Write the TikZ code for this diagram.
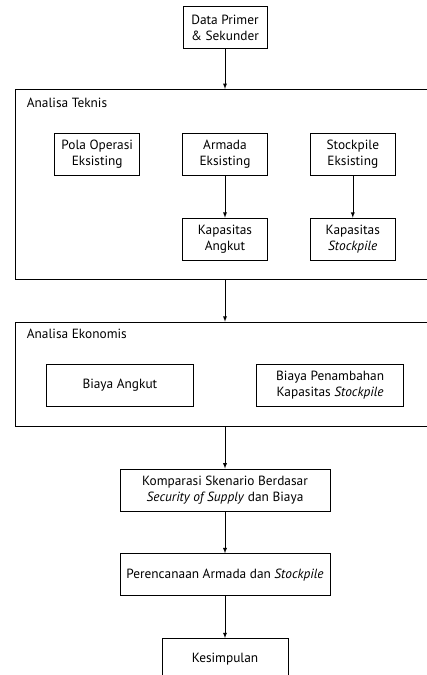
\documentclass[tikz,border=0pt]{standalone}
\usepackage{fontspec}
\setmainfont{PT Sans}
\usetikzlibrary{positioning}

\tikzset{
  box/.style={draw, line width=0.6pt, minimum height=31.5pt, inner sep=2pt,
    align=center, font=\fontsize{10}{12}\selectfont},
  group/.style={draw, line width=0.6pt, minimum width=315pt, inner sep=0pt},
  grouptitle/.style={anchor=west, inner sep=0pt, font=\fontsize{10}{12}\selectfont},
}

\begin{document}
\begin{tikzpicture}[x=0.75pt, y=-0.75pt, node distance=31.5pt, >=latex]
        \clip (0,0) rectangle (427,675);
        \node[box, minimum width=63pt] (data) at (225,27.5) {Data Primer\\\& Sekunder};

        % analisa teknis
        \node[group, minimum height=142.5pt, below=30pt of data] (teknis) {};
        \node[grouptitle] at ([shift={(9pt,-10.5pt)}]teknis.north west) {Analisa Teknis};
        \node[box, minimum width=63.75pt, below=33pt of teknis.north] (armada) {Armada\\Eksisting};
        \node[box, minimum width=63.75pt, left=of armada] (pola) {Pola Operasi\\Eksisting};
        \node[box, minimum width=63.75pt, right=of armada] (stockE) {Stockpile\\Eksisting};
        \node[box, minimum width=63.75pt, below=of armada] (kapA) {Kapasitas\\Angkut};
        \node[box, minimum width=63.75pt, below=of stockE] (kapS) {Kapasitas\\\textit{Stockpile}};

        % analisa ekonomis
        \node[group, minimum height=78pt, below=of teknis] (ekonomis) {};
        \node[grouptitle] at ([shift={(9pt,-9pt)}]ekonomis.north west) {Analisa Ekonomis};
        \node[box, minimum width=110.6pt, below left=31.5pt and 23.25pt of ekonomis.north] (biayaA) {Biaya Angkut};
        \node[box, minimum width=110.6pt, below right=31.5pt and 23.25pt of ekonomis.north] (biayaP) {Biaya Penambahan\\Kapasitas \textit{Stockpile}};

        \node[box, minimum width=157.5pt, below=of ekonomis] (komp) {Komparasi Skenario Berdasar\\\textit{Security of Supply} dan Biaya};
        \node[box, minimum width=157.5pt, below=of komp] (renc) {Perencanaan Armada dan \textit{Stockpile}};
        \node[box, minimum width=94.5pt, below=of renc] (kes) {Kesimpulan};

        \draw[->] (data) -- (teknis);
        \draw[->] (armada) -- (kapA);
        \draw[->] (stockE) -- (kapS);
        \draw[->] (teknis) -- (ekonomis);
        \draw[->] (ekonomis) -- (komp);
        \draw[->] (komp) -- (renc);
        \draw[->] (renc) -- (kes);
    \end{tikzpicture}
\end{document}
